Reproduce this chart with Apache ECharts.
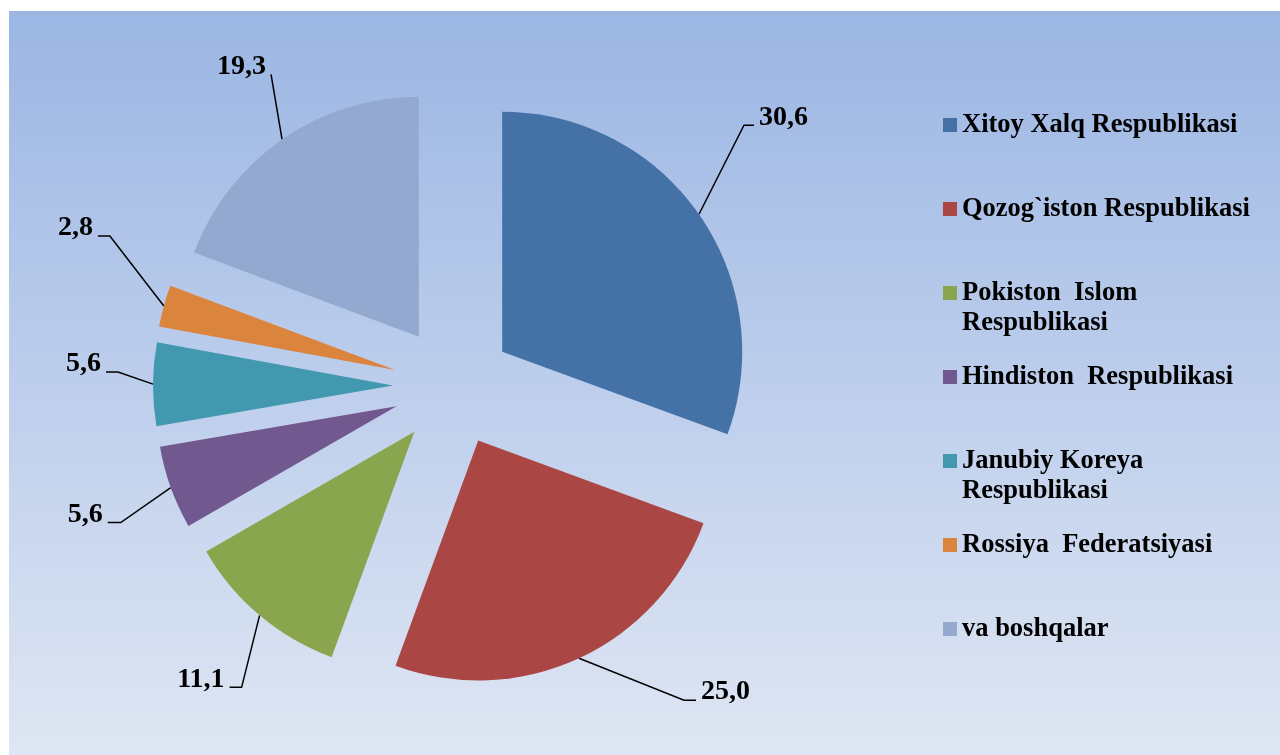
<!DOCTYPE html>
<html>
<head>
<meta charset="utf-8">
<title>Pie</title>
<script src="https://cdn.jsdelivr.net/npm/echarts@6/dist/echarts.min.js"></script>
<style>
  html, body { margin: 0; padding: 0; background: #fff; }
  #chart { width: 1280px; height: 755px; }
</style>
</head>
<body>
<div id="chart"></div>
<script>
// data
var countries = [
  'Xitoy Xalq Respublikasi',
  'Qozog`iston Respublikasi',
  'Pokiston  Islom\nRespublikasi',
  'Hindiston  Respublikasi',
  'Janubiy Koreya\nRespublikasi',
  'Rossiya  Federatsiyasi',
  'va boshqalar'
];
var shares = [30.6, 25.0, 11.1, 5.6, 5.6, 2.8, 19.3];
var colors = ['#4572A6', '#AA4643', '#89A54E', '#71588F', '#4198AF', '#DB843D', '#93A9CF'];

// leader line shape per label: elbow offset from the anchor, then the short tail
var labelHooks = [
  [45, -89, 10],
  [105, 42, 12],
  [-18, 72, -12],
  [-50, 35, -13],
  [-35, -12, -12],
  [-54, -70, -12],
  [-11, -65, 0]
];

var pieCenter = [453, 386];
var explode = 60;
var serif = 'Liberation Serif, Times New Roman, serif';

var chart = echarts.init(document.getElementById('chart'));

// horizontal push of the text to the end of the hook
function labelPadding(h) {
  var along = h[0] + h[2];
  return h[0] > 0 ? [0, 0, 0, along] : [0, -along, 0, 0];
}
// vertical push: the text sits a little above the tail
function labelRise(h) {
  return h[1] - 8;
}

var option = {
  animation: false,
  color: colors,
  graphic: [{
    type: 'rect',
    left: 9,
    top: 11,
    silent: true,
    z: -10,
    shape: { width: 1271, height: 744 },
    style: {
      fill: new echarts.graphic.LinearGradient(0, 0, 0, 1, [
        { offset: 0, color: '#9BB6E3' },
        { offset: 0.5, color: '#BDCEEC' },
        { offset: 1, color: '#DFE6F3' }
      ])
    }
  }],
  legend: {
    orient: 'vertical',
    left: 943,
    top: 80,
    padding: 0,
    itemGap: -6,
    itemWidth: 14,
    itemHeight: 14,
    icon: 'rect',
    selectedMode: false,
    textStyle: {
      fontFamily: serif,
      fontWeight: 'bold',
      fontSize: 26.5,
      lineHeight: 30,
      color: '#000'
    },
    // pad every entry to three lines so the marker sits on the first text line
    formatter: function (name) {
      return name.indexOf('\n') >= 0 ? '\n' + name : '\n' + name + '\n';
    },
    data: countries
  },
  series: [{
    type: 'pie',
    center: pieCenter,
    radius: 240,
    startAngle: 90,
    clockwise: true,
    selectedMode: 'multiple',
    selectedOffset: explode,
    avoidLabelOverlap: false,
    emphasis: { disabled: true },
    itemStyle: { borderWidth: 0 },
    label: {
      show: true,
      position: 'outside',
      distanceToLabelLine: 5,
      fontFamily: serif,
      fontWeight: 'bold',
      fontSize: 28,
      color: '#000',
      // an empty line above or below moves the value up or down
      formatter: function (p) {
        var txt = p.value.toFixed(1).replace('.', ',');
        return labelRise(labelHooks[p.dataIndex]) < 0 ? txt + '\n' : '\n' + txt;
      }
    },
    labelLine: {
      show: true,
      length: 0,
      length2: 0,
      lineStyle: { color: '#000', width: 1.5 }
    },
    labelLayout: function (p) {
      var h = labelHooks[p.dataIndex];
      var a = p.labelLinePoints[0];
      var b = [a[0] + h[0], a[1] + h[1]];
      var c = [b[0] + h[2], b[1]];
      return { labelLinePoints: [a, b, c] };
    },
    data: countries.map(function (name, i) {
      var h = labelHooks[i];
      return {
        name: name,
        value: shares[i],
        selected: true,
        label: {
          padding: labelPadding(h),
          lineHeight: 2 * Math.abs(labelRise(h))
        }
      };
    })
  }]
};

chart.setOption(option);
</script>
</body>
</html>
